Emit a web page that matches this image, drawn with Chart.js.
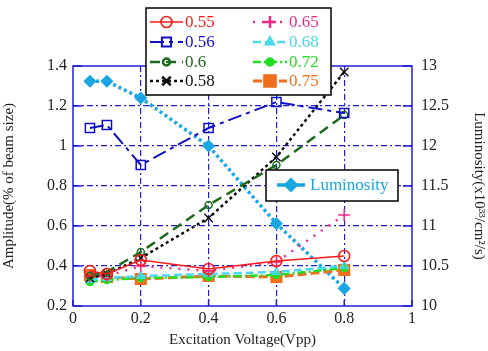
<!DOCTYPE html>
<html lang="en">

<head>
    <meta charset="UTF-8">
    <title>Amplitude vs Excitation Voltage</title>
    <script src="https://cdn.jsdelivr.net/npm/chart.js@4.4.1/dist/chart.umd.min.js"></script>
    <style>
        html, body { margin: 0; padding: 0; background: #fff; }
        #box { width: 488px; height: 351px; }
    </style>
</head>

<body>
    <div id="box"><canvas id="grafico"></canvas></div>
</body>

</html>
<script>
    // excitation voltage (Vpp)
    const voltages = [0.05, 0.1, 0.2, 0.4, 0.6, 0.8];

    // amplitude (% of beam size) for each tune
    const amp055 = [0.375, 0.36, 0.43, 0.385, 0.425, 0.45];
    const amp056 = [1.09, 1.105, 0.905, 1.09, 1.22, 1.165];
    const amp06 = [0.35, 0.37, 0.47, 0.705, 0.905, 1.155];
    const amp058 = [0.34, 0.36, 0.44, 0.64, 0.945, 1.37];
    const amp065 = [0.35, 0.35, 0.40, 0.375, 0.42, 0.655];
    const amp068 = [0.33, 0.34, 0.35, 0.36, 0.37, 0.40];
    const amp072 = [0.32, 0.33, 0.34, 0.345, 0.355, 0.39];
    const amp075 = [0.355, 0.345, 0.335, 0.35, 0.345, 0.38];

    // luminosity (x10^33 /cm^2/s)
    const luminosity = [12.81, 12.81, 12.6, 12.0, 11.03, 10.22];

    const xTicks = [0, 0.2, 0.4, 0.6, 0.8, 1];
    const ampTicks = [0.2, 0.4, 0.6, 0.8, 1, 1.2, 1.4];
    const lumTicks = [10, 10.5, 11, 11.5, 12, 12.5, 13];

    const azul = '#1f1fd6';
    const fonte = '"Liberation Serif", "DejaVu Serif", serif';

    function pontos(valores) {
        return voltages.map((v, i) => ({ x: v, y: valores[i] }));
    }

    function rotulo(v) {
        return String(Math.round(v * 100) / 100);
    }

    function serie(label, valores, cor, estilo) {
        return Object.assign({
            label: label,
            data: pontos(valores),
            borderColor: cor,
            backgroundColor: cor,
            pointBorderColor: cor,
            pointBackgroundColor: cor,
            yAxisID: 'y',
            borderWidth: 2,
            pointRadius: 5,
            pointBorderWidth: 1.5,
            tension: 0,
            fill: false
        }, estilo);
    }

    const datasets = [
        serie('0.55', amp055, '#ff1a1a', { borderWidth: 1.6, pointStyle: 'circle', pointBackgroundColor: 'rgba(0,0,0,0)', pointRadius: 5.5 }),
        serie('0.56', amp056, '#1010c8', { borderDash: [14, 5, 4, 5], pointStyle: 'rect', pointBackgroundColor: 'rgba(0,0,0,0)', pointRadius: 6.5 }),
        serie('0.6', amp06, '#1c6a1c', { borderWidth: 2.5, borderDash: [10, 6], pointStyle: 'circle', pointBackgroundColor: 'rgba(0,0,0,0)', pointRadius: 3.5 }),
        serie('0.58', amp058, '#111111', { borderWidth: 2.5, borderDash: [3, 3], pointStyle: 'crossRot', pointRadius: 6 }),
        serie('0.65', amp065, '#ee2a8a', { borderWidth: 2.5, borderDash: [2, 7], pointStyle: 'cross', pointRadius: 6 }),
        serie('0.68', amp068, '#4ad8f0', { borderWidth: 2.5, borderDash: [8, 4], pointStyle: 'triangle', pointBackgroundColor: 'rgba(0,0,0,0)', pointRadius: 4.5 }),
        serie('0.72', amp072, '#22dd22', { borderWidth: 2.5, borderDash: [8, 3, 2, 3], pointStyle: 'circle', pointRadius: 3.5 }),
        serie('0.75', amp075, '#f06e1e', { borderWidth: 3, borderDash: [9, 4], pointStyle: 'rect', pointRadius: 7.5 }),
        serie('Luminosity', luminosity, '#1aa6e2', { yAxisID: 'y1', borderWidth: 3.5, borderDash: [3, 3], pointStyle: 'rectRot', pointRadius: 5.5 })
    ];

    // legend boxes drawn inside the plot, like the original figure
    function desenharItem(ctx, ds, x1, x2, y, xTexto) {
        ctx.save();
        ctx.strokeStyle = ds.borderColor;
        ctx.lineWidth = ds.borderWidth;
        ctx.setLineDash(ds.borderDash || []);
        ctx.beginPath();
        ctx.moveTo(x1, y);
        ctx.lineTo(x2, y);
        ctx.stroke();
        ctx.setLineDash([]);
        ctx.strokeStyle = ds.pointBorderColor;
        ctx.fillStyle = ds.pointBackgroundColor;
        Chart.helpers.drawPoint(ctx, {
            pointStyle: ds.pointStyle,
            radius: ds.pointRadius,
            borderWidth: ds.pointBorderWidth,
            rotation: 0
        }, (x1 + x2) / 2, y);
        ctx.fillStyle = ds.borderColor;
        ctx.font = '17px ' + fonte;
        ctx.textAlign = 'left';
        ctx.textBaseline = 'middle';
        ctx.fillText(ds.label, xTexto, y + 1);
        ctx.restore();
    }

    function caixa(ctx, x, y, w, h) {
        ctx.save();
        ctx.fillStyle = '#fff';
        ctx.fillRect(x, y, w, h);
        ctx.strokeStyle = '#000';
        ctx.lineWidth = 1.5;
        ctx.strokeRect(x, y, w, h);
        ctx.restore();
    }

    const legendaPlugin = {
        id: 'legendaPlugin',
        afterDatasetsDraw(chart) {
            const ctx = chart.ctx;
            const ds = chart.data.datasets;

            caixa(ctx, 146, 8, 185, 87);
            const linhas = [22, 42, 62, 81];
            [0, 1, 2, 3].forEach((k, i) => desenharItem(ctx, ds[k], 150, 183, linhas[i], 185));
            [4, 5, 6, 7].forEach((k, i) => desenharItem(ctx, ds[k], 253, 287, linhas[i], 289));

            caixa(ctx, 266, 170, 132, 31);
            const lum = Object.assign({}, ds[8], { borderDash: [], pointRadius: 5 });
            desenharItem(ctx, lum, 277, 305, 185, 310);
        }
    };

    // frame and inward tick marks
    const molduraPlugin = {
        id: 'molduraPlugin',
        beforeDatasetsDraw(chart) {
            const ctx = chart.ctx;
            const a = chart.chartArea;
            const sx = chart.scales.x, sy = chart.scales.y, sy1 = chart.scales.y1;
            ctx.save();
            ctx.strokeStyle = azul;
            ctx.lineWidth = 1.5;
            ctx.strokeRect(a.left, a.top, a.right - a.left, a.bottom - a.top);
            ctx.beginPath();
            xTicks.forEach(v => {
                const px = sx.getPixelForValue(v);
                ctx.moveTo(px, a.bottom);
                ctx.lineTo(px, a.bottom - 6);
            });
            ampTicks.forEach(v => {
                const py = sy.getPixelForValue(v);
                ctx.moveTo(a.left, py);
                ctx.lineTo(a.left + 9, py);
            });
            lumTicks.forEach(v => {
                const py = sy1.getPixelForValue(v);
                ctx.moveTo(a.right, py);
                ctx.lineTo(a.right - 9, py);
            });
            ctx.stroke();
            ctx.restore();
        }
    };

    function gradeCor(ctx) {
        const t = ctx.tick ? ctx.tick.value : null;
        const s = ctx.scale;
        if (t === null || Math.abs(t - s.min) < 1e-6 || Math.abs(t - s.max) < 1e-6) return 'rgba(0,0,0,0)';
        return azul;
    }

    const fonteTick = { family: fonte, size: 16 };

    const config = {
        type: 'line',
        data: { datasets: datasets },
        plugins: [molduraPlugin, legendaPlugin],
        options: {
            responsive: true,
            maintainAspectRatio: false,
            animation: false,
            layout: { padding: { top: 66, left: 0, right: 0, bottom: 0 } },
            plugins: {
                legend: { display: false },
                tooltip: { enabled: false }
            },
            scales: {
                x: {
                    type: 'linear',
                    min: 0,
                    max: 1,
                    afterFit(s) { s.height = 45; },
                    afterBuildTicks(s) { s.ticks = xTicks.map(v => ({ value: v })); },
                    grid: { color: gradeCor, lineWidth: 1.2, drawTicks: false },
                    border: { display: false, dash: [6, 3, 2, 3] },
                    ticks: { color: '#222', padding: 3, font: fonteTick, callback: rotulo },
                    title: { display: true, text: 'Excitation Voltage(Vpp)', color: '#222', padding: { top: 0, bottom: 2 }, font: { family: fonte, size: 15 } }
                },
                y: {
                    position: 'left',
                    min: 0.2,
                    max: 1.4,
                    afterFit(s) { s.width = 73; },
                    afterBuildTicks(s) { s.ticks = ampTicks.map(v => ({ value: v })); },
                    grid: { color: gradeCor, lineWidth: 1.2, drawTicks: false },
                    border: { display: false, dash: [6, 3, 2, 3] },
                    ticks: { color: '#222', padding: 6, font: fonteTick, callback: rotulo },
                    title: { display: true, text: 'Amplitude(% of beam size)', color: '#222', padding: { top: 0, bottom: 2 }, font: { family: fonte, size: 15 } }
                },
                y1: {
                    position: 'right',
                    min: 10,
                    max: 13,
                    afterFit(s) { s.width = 76; },
                    afterBuildTicks(s) { s.ticks = lumTicks.map(v => ({ value: v })); },
                    grid: { display: false, drawTicks: false },
                    border: { display: false },
                    ticks: { color: '#222', padding: 9, font: fonteTick, callback: rotulo },
                    title: { display: true, text: 'Luminosity(x10³³/cm²/s)', color: '#222', padding: { top: 0, bottom: 8 }, font: { family: fonte, size: 15 } }
                }
            }
        }
    };

    const canvas = document.getElementById('grafico');
    const ctx = canvas.getContext('2d');
    new Chart(ctx, config);
</script>
